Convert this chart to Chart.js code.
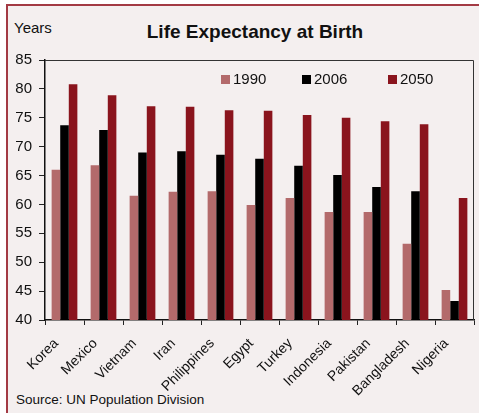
<!DOCTYPE html>
<html>
<head>
<meta charset="utf-8">
<script src="https://cdn.jsdelivr.net/npm/chart.js@4"></script>
<style>
  body { margin: 0; background: #fff; font-family: "Liberation Sans", Arial, sans-serif; }
  #frame { position: absolute; left: 6px; top: 4px; width: 473px; height: 409px;
           background: #f4efef; border-left: 2px solid #a33a44; border-top: 2px solid #a33a44; box-sizing: border-box; }
  #wrap { position: absolute; left: 0; top: 0; width: 479px; height: 413px; }
  .txt { position: absolute; color: #111; white-space: nowrap; }
  #title { left: 0; width: 510px; text-align: center; top: 21px; font-size: 19px; font-weight: bold; }
  #years { left: 14px; top: 19px; font-size: 15px; }
  #source { left: 16px; top: 392px; font-size: 13.5px; }
</style>
</head>
<body>
<div id="frame"></div>
<div class="txt" id="title">Life Expectancy at Birth</div>
<div class="txt" id="years">Years</div>
<div class="txt" id="source">Source: UN Population Division</div>
<div id="wrap"><canvas id="myChart" width="479" height="413"></canvas></div>
<script>
// values
const countries = ['Korea', 'Mexico', 'Vietnam', 'Iran', 'Philippines', 'Egypt', 'Turkey', 'Indonesia', 'Pakistan', 'Bangladesh', 'Nigeria'];
const y1990 = [66.0, 66.8, 61.5, 62.2, 62.3, 59.9, 61.1, 58.7, 58.7, 53.2, 45.2];
const y2006 = [73.7, 72.9, 69.0, 69.2, 68.6, 67.9, 66.7, 65.1, 63.0, 62.3, 43.3];
const y2050 = [80.8, 78.9, 77.0, 76.9, 76.3, 76.2, 75.5, 75.0, 74.4, 73.9, 61.1];
const yTicks = [40, 45, 50, 55, 60, 65, 70, 75, 80, 85];

// legend boxes sit inside the plot, at fixed spots
const legendX = [221, 302, 388];
const legendPlugin = {
    id: 'insideLegend',
    afterDraw(chart) {
        const ctx = chart.ctx;
        ctx.save();
        ctx.font = '15px "Liberation Sans", Arial, sans-serif';
        ctx.textBaseline = 'middle';
        chart.data.datasets.forEach(function (ds, i) {
            ctx.fillStyle = ds.backgroundColor;
            ctx.fillRect(legendX[i], 75, 9, 9);
            ctx.fillStyle = '#111';
            ctx.fillText(ds.label, legendX[i] + 12, 80);
        });
        ctx.restore();
    }
};

// top and right edge of the plot box
const boxPlugin = {
    id: 'plotBox',
    afterDraw(chart) {
        const a = chart.chartArea;
        const ctx = chart.ctx;
        ctx.save();
        ctx.strokeStyle = '#333';
        ctx.lineWidth = 1;
        ctx.beginPath();
        ctx.moveTo(a.left, a.top + 0.5);
        ctx.lineTo(a.right - 0.5, a.top + 0.5);
        ctx.lineTo(a.right - 0.5, a.bottom);
        ctx.stroke();
        ctx.restore();
    }
};

const ctx = document.getElementById('myChart').getContext('2d');
Chart.defaults.font.family = '"Liberation Sans", Arial, sans-serif';
Chart.defaults.color = '#111';

const chart = new Chart(ctx, {
    type: 'bar',
    data: {
        labels: countries,
        datasets: [
            { label: '1990', data: y1990, backgroundColor: '#b36a6b' },
            { label: '2006', data: y2006, backgroundColor: '#000000' },
            { label: '2050', data: y2050, backgroundColor: '#8a141d' }
        ]
    },
    plugins: [legendPlugin, boxPlugin],
    options: {
        responsive: false,
        animation: false,
        layout: { padding: { top: 60, right: 5, left: 0, bottom: 0 } },
        datasets: { bar: { barPercentage: 1, categoryPercentage: 0.66 } },
        plugins: {
            legend: { display: false },
            title: { display: false },
            tooltip: { enabled: false }
        },
        scales: {
            y: {
                min: 40,
                max: 85,
                afterBuildTicks: function (s) { s.ticks = yTicks.map(v => ({ value: v })); },
                afterFit: function (s) { s.width = 45; },
                ticks: { font: { size: 15 }, padding: 7, color: '#111' },
                grid: { drawOnChartArea: false, tickLength: 6, color: '#222' },
                border: { color: '#111', width: 1.5 }
            },
            x: {
                afterFit: function (s) { s.height = 93; },
                ticks: {
                    font: { size: 14 }, minRotation: 45, maxRotation: 45, padding: 2, color: '#111',
                    // trailing spaces nudge the rotated labels down-left like the original
                    callback: function (v) { return countries[v] + '   '; }
                },
                grid: { drawOnChartArea: false, tickLength: 5, color: '#222', offset: true },
                border: { color: '#111', width: 1.5 }
            }
        }
    }
});
</script>
</body>
</html>
